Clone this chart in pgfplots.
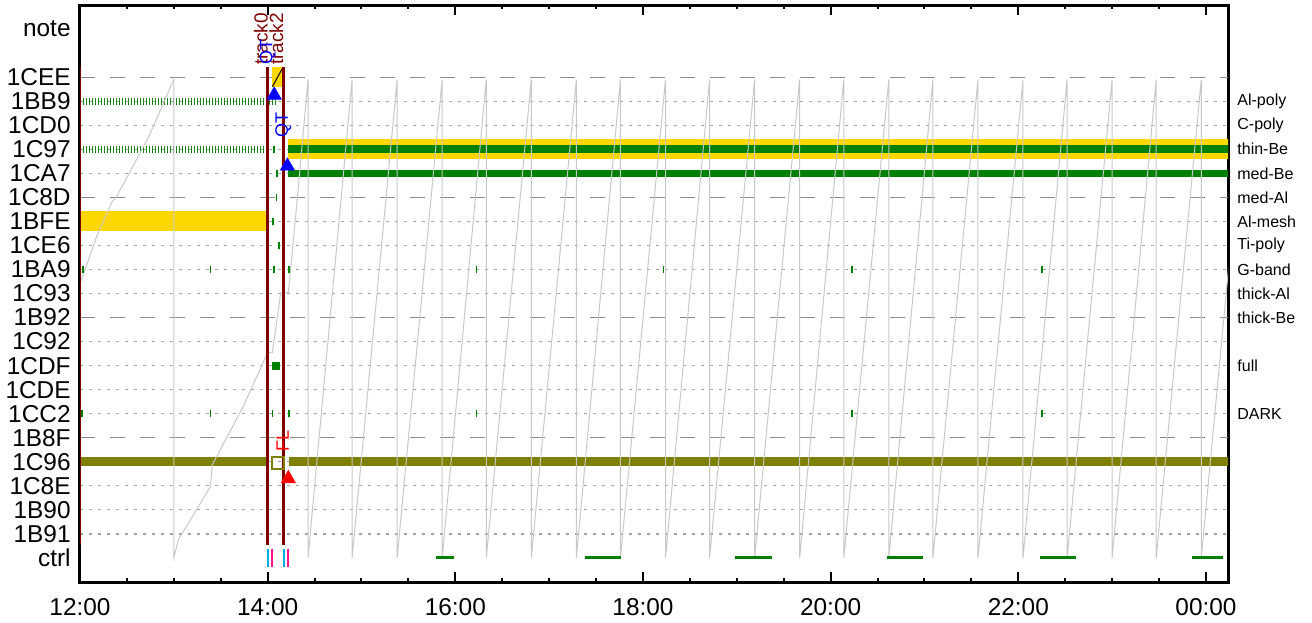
\documentclass[border=0pt]{standalone}
\usepackage{pgfplots}
\pgfplotsset{compat=1.18}
\usepackage{fontspec}
\setmainfont{Liberation Sans}
\definecolor{trk}{RGB}{128,0,0}
\definecolor{gld}{RGB}{255,215,0}
\definecolor{grn}{RGB}{0,128,0}
\definecolor{tickgrn}{RGB}{20,135,20}
\definecolor{olv}{RGB}{128,128,0}
\definecolor{saw}{RGB}{200,200,200}
\definecolor{grd}{RGB}{140,140,140}
\definecolor{pnk}{RGB}{255,20,147}

\begin{document}
\begin{tikzpicture}
\begin{axis}[
  at={(0,0)}, anchor=south west,
  scale only axis,
  width=574pt, height=288.5pt,
  xmin=12, xmax=24.235, ymin=-1, ymax=23,
  axis line style={line width=1.5pt},
  xtick={12,14,...,24},
  xticklabels={12:00,14:00,16:00,18:00,20:00,22:00,00:00},
  minor x tick num=3,
  major tick length=5pt, minor tick length=2.2pt,
  xtick style={black, line width=1pt},
  ytick={0,...,20,22},
  yticklabels={ctrl,1B91,1B90,1C8E,1C96,1B8F,1CC2,1CDE,1CDF,1C92,1B92,1C93,1BA9,1CE6,1BFE,1C8D,1CA7,1C97,1CD0,1BB9,1CEE,note},
  ytick style={draw=none},
  tick label style={font=\fontsize{12.2}{14}\selectfont},
  yticklabel style={anchor=east, inner sep=0pt, xshift=-4.5pt},
  xticklabel style={anchor=north, inner sep=0pt, yshift=-8pt},
  /pgf/number format/assume math mode=true,
]
% grid rows
\pgfplotsinvokeforeach{1,2,3,4,6,7,8,9,11,12,13,14,16,17,18,19}{
  \addplot[grd!80, line width=0.6pt, dash pattern=on 1.5pt off 3pt] coordinates {(12,#1) (24.3,#1)};
}
\pgfplotsinvokeforeach{5,10,15,20}{
  \addplot[grd, line width=0.6pt, dash pattern=on 7.5pt off 7.5pt] coordinates {(12,#1) (24.3,#1)};
}

% filter bands
\addplot[gld, line width=10pt] coordinates {(12,14) (14.0,14)};
\addplot[gld, line width=10pt] coordinates {(14.215,17) (24.3,17)};
\addplot[grn, line width=4.2pt] coordinates {(14.215,17) (24.3,17)};
\addplot[grn, line width=3.7pt] coordinates {(14.215,16) (24.3,16)};
\addplot[olv, line width=4.7pt] coordinates {(12,4) (14.005,4)};
\addplot[olv, line width=4.7pt] coordinates {(14.225,4) (24.3,4)};
\addplot[fill=gld, draw=none] coordinates {(14.05,19.6) (14.165,19.6) (14.165,20.42) (14.05,20.42)};
\addplot[black, line width=0.5pt] coordinates {(14.05,19.6) (14.165,20.42)};

% dense tick rows before 14:00
\addplot[tickgrn, line width=3.6pt, dash pattern=on 0.6pt off 0.9pt] coordinates {(12,19) (14.08,19)};
\addplot[tickgrn, line width=3.6pt, dash pattern=on 0.6pt off 0.9pt] coordinates {(12,17) (13.99,17)};

% isolated ticks
\addplot[only marks, mark=|, mark size=1.75pt, grn, mark options={line width=0.8pt}] coordinates {
  (12.03,12) (13.39,12) (14.065,12) (14.225,12) (16.226,12) (18.22,12) (20.23,12) (22.25,12)
  (12.02,6) (13.39,6) (14.05,6) (14.225,6) (16.226,6) (20.23,6) (22.25,6)
  (14.065,17) (14.10,16) (14.094,15) (14.06,14) (14.12,13)
};
\addplot[only marks, mark=square*, mark size=1.8pt, grn] coordinates {(14.087,8)};
\addplot[only marks, mark=square, mark size=3pt, olv, mark options={line width=0.8pt}] coordinates {(14.11,3.96)};

% sawtooth
\addplot[saw, line width=0.5pt] coordinates {
  (12.0,11.4) (12.18,13.4) (12.34,14.8) (12.40,15.1) (12.73,17.5) (13.0,19.9)
  (13.0,0) (13.047,0.75) (13.39,2.97) (13.41,3.875) (13.74,6.3) (14.0,8.54) (14.05,8.54)
  (14.14,11.04) (14.22,11.04) (14.275,13.25) (14.315,14.9) (14.43,19.9)
  (14.43,0) (14.90,19.9) (14.90,0) (15.38,19.9) (15.38,0) (15.86,19.9) (15.86,0)
  (16.33,19.9) (16.33,0) (16.81,19.9) (16.81,0) (17.29,19.9) (17.29,0) (17.76,19.9) (17.76,0)
  (18.24,19.9) (18.24,0) (18.71,19.9) (18.71,0) (19.19,19.9) (19.19,0) (19.67,19.9) (19.67,0)
  (20.14,19.9) (20.14,0) (20.62,19.9) (20.62,0) (21.09,19.9) (21.09,0) (21.57,19.9) (21.57,0)
  (22.05,19.9) (22.05,0) (22.52,19.9) (22.52,0) (23.00,19.9) (23.00,0) (23.47,19.9) (23.47,0)
  (23.95,19.9) (23.95,0) (24.43,19.9)
};

% ctrl segments
\addplot[grn, line width=1.5pt, unbounded coords=jump] coordinates {
  (15.79,0) (15.99,0) (16.5,nan) (17.377,0) (17.768,0) (18.5,nan) (18.986,0) (19.377,0) (20,nan)
  (20.60,0) (20.98,0) (21.5,nan) (22.23,0) (22.61,0) (23,nan) (23.846,0) (24.18,0)
};
\addplot[only marks, mark=|, mark size=4.5pt, cyan, mark options={line width=0.8pt}] coordinates {(14.006,0) (14.172,0)};
\addplot[only marks, mark=|, mark size=4.5pt, pnk, mark options={line width=0.8pt}] coordinates {(14.048,0) (14.219,0)};

% track lines
\addplot[trk, line width=1.5pt] coordinates {(12.0,0.55) (12.0,20.42)};
\addplot[trk, line width=1.5pt] coordinates {(14.0,0.55) (14.0,20.42)};
\addplot[trk, line width=1.5pt] coordinates {(14.165,0.55) (14.165,20.42)};

% triangles
\addplot[only marks, mark=triangle*, mark size=4pt, blue] coordinates {(14.07,19.25) (14.21,16.3)};
\addplot[only marks, mark=triangle*, mark size=4pt, red] coordinates {(14.22,3.3)};

% labels
\node[trk, rotate=90, anchor=base west, inner sep=0pt, font=\fontsize{9.5}{10}\selectfont] at (axis cs:14.0,20.5) {track0};
\node[trk, rotate=90, anchor=base west, inner sep=0pt, font=\fontsize{9.5}{10}\selectfont] at (axis cs:14.165,20.5) {track2};
\node[blue, rotate=90, anchor=base west, inner sep=0pt, font=\fontsize{9}{10}\selectfont] at (axis cs:14.05,20.5) {QT};
\node[blue, rotate=90, anchor=base west, inner sep=0pt, font=\fontsize{9}{10}\selectfont] at (axis cs:14.215,17.49) {QT};
\node[red, rotate=90, anchor=base west, inner sep=0pt, font=\fontsize{9}{10}\selectfont] at (axis cs:14.225,4.43) {FL};
\end{axis}

\begin{axis}[
  at={(0,0)}, anchor=south west,
  scale only axis,
  width=574pt, height=288.5pt,
  xmin=12, xmax=24.235, ymin=-1, ymax=23,
  hide x axis,
  axis y line*=right,
  y axis line style={draw=none},
  ytick={19,18,17,16,15,14,13,12,11,10,8,6},
  yticklabels={Al-poly,C-poly,thin-Be,med-Be,med-Al,Al-mesh,Ti-poly,G-band,thick-Al,thick-Be,full,DARK},
  ytick style={draw=none},
  yticklabel style={font=\fontsize{8}{9}\selectfont, anchor=west, inner sep=0pt, xshift=4.5pt},
]
\addplot[draw=none] coordinates {(12,0)};
\end{axis}

\pgfresetboundingbox
\path[use as bounding box] (-40pt,-20pt) rectangle (616pt,291pt);
\end{tikzpicture}
\end{document}
